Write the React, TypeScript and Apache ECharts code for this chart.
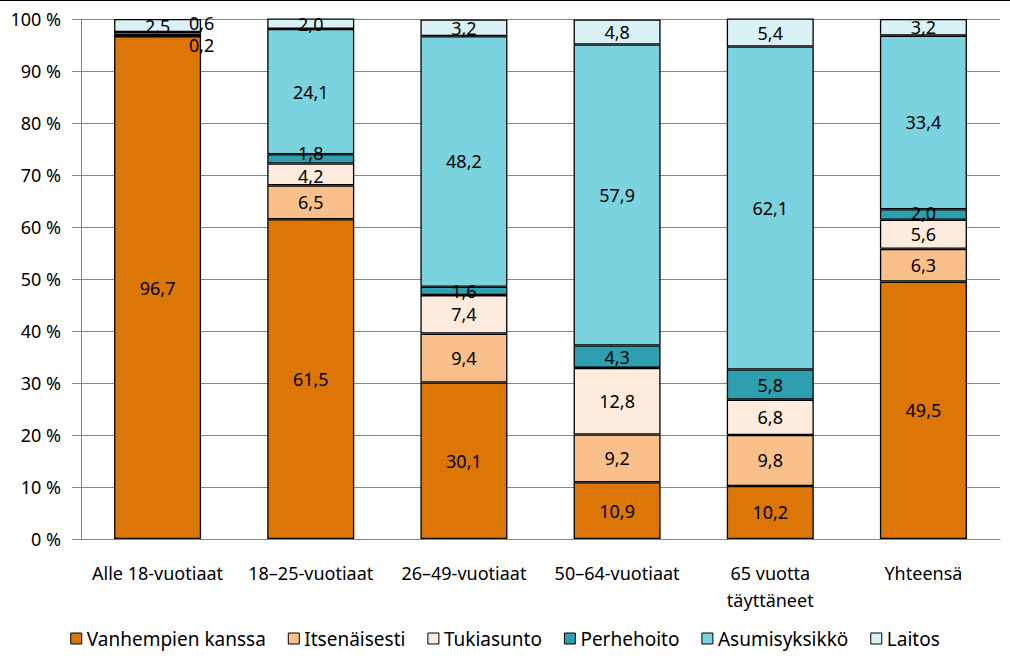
import React, { useEffect, useRef } from "react";
import * as echarts from "echarts";

const categories = ["Alle 18-vuotiaat", "18–25-vuotiaat", "26–49-vuotiaat", "50–64-vuotiaat", "65 vuotta\ntäyttäneet", "Yhteensä"];
const seriesNames = ["Vanhempien kanssa", "Itsenäisesti", "Tukiasunto", "Perhehoito", "Asumisyksikkö", "Laitos"];
const vanhempien = [96.7, 61.5, 30.1, 10.9, 10.2, 49.5];
const itsenaisesti = [0, 6.5, 9.4, 9.2, 9.8, 6.3];
const tukiasunto = [0, 4.2, 7.4, 12.8, 6.8, 5.6];
const perhehoito = [0.2, 1.8, 1.6, 4.3, 5.8, 2.0];
const asumisyksikko = [0.6, 24.1, 48.2, 57.9, 62.1, 33.4];
const laitos = [2.5, 2.0, 3.2, 4.8, 5.4, 3.2];
const yTicks = [0, 10, 20, 30, 40, 50, 60, 70, 80, 90, 100];

const colors = ["#DB7607", "#F9C08C", "#FDEBDD", "#2E9FAE", "#7BD3E0", "#DAF2F6"];
const FONT = "'Noto Sans', sans-serif";

export default function App() {
  const ref = useRef<HTMLDivElement>(null);
  useEffect(() => {
    document.body.style.margin = "0";
    const chart = echarts.init(ref.current!, null, { renderer: "svg" });
    const all = [vanhempien, itsenaisesti, tukiasunto, perhehoito, asumisyksikko, laitos];
    const fmt = (v: number) => v.toFixed(1).replace(".", ",");
    const series = all.map((arr, si) => ({
      name: seriesNames[si],
      type: "bar",
      stack: "total",
      barWidth: 87,
      itemStyle: { color: colors[si], borderColor: "#000", borderWidth: 1.3 },
      label: {
        show: true,
        position: "inside",
        color: "#000",
        fontSize: 18,
        lineHeight: 16,
        fontFamily: FONT,
        formatter: (p: any) => (p.value === 0 ? "" : fmt(p.value)),
      },
      data: arr.map((v, ci) => {
        if (ci === 0 && si === 3) return { value: v, label: { offset: [44, 9] } };
        if (ci === 0 && si === 4) return { value: v, label: { offset: [44, -11] } };
        if (ci === 1 && si === 3) return { value: v, label: { offset: [0, -6] } };
        if (ci === 1 && si === 2) return { value: v, label: { offset: [0, 2] } };
        if (ci === 5 && si === 3) return { value: v, label: { offset: [0, -2] } };
        return v;
      }),
    }));
    chart.setOption({
      animation: false,
      textStyle: { fontFamily: FONT },
      grid: { left: 81, right: 10, top: 19, bottom: 129, containLabel: false },
      legend: {
        bottom: 15,
        left: "center",
        itemWidth: 11,
        itemHeight: 11,
        itemGap: 22,
        icon: "rect",
        textStyle: { fontSize: 19, color: "#000", fontFamily: FONT },
        data: seriesNames.map((n) => ({ name: n, itemStyle: { borderColor: "#000", borderWidth: 1 } })),
      },
      xAxis: {
        type: "category",
        data: categories,
        axisLine: { lineStyle: { color: "#868686" } },
        axisTick: { show: false },
        axisLabel: { interval: 0, fontSize: 18, color: "#000", margin: 20, lineHeight: 27, fontFamily: FONT },
      },
      yAxis: {
        type: "value",
        min: 0,
        max: 100,
        interval: 10,
        axisLine: { show: true, lineStyle: { color: "#868686" } },
        axisTick: { show: true, length: 9, lineStyle: { color: "#868686" } },
        splitLine: { lineStyle: { color: "#868686" } },
        axisLabel: {
          fontSize: 18,
          color: "#000",
          margin: 20,
          fontFamily: FONT,
          formatter: (v: number) => (yTicks.includes(v) ? v + " %" : ""),
        },
      },
      graphic: [
        { type: "line", shape: { x1: 0, y1: 0.5, x2: 1010, y2: 0.5 }, style: { stroke: "#000", lineWidth: 1 } },
      ],
      series,
    });
    return () => chart.dispose();
  }, []);
  return <div ref={ref} style={{ width: 1010, height: 668 }} />;
}
